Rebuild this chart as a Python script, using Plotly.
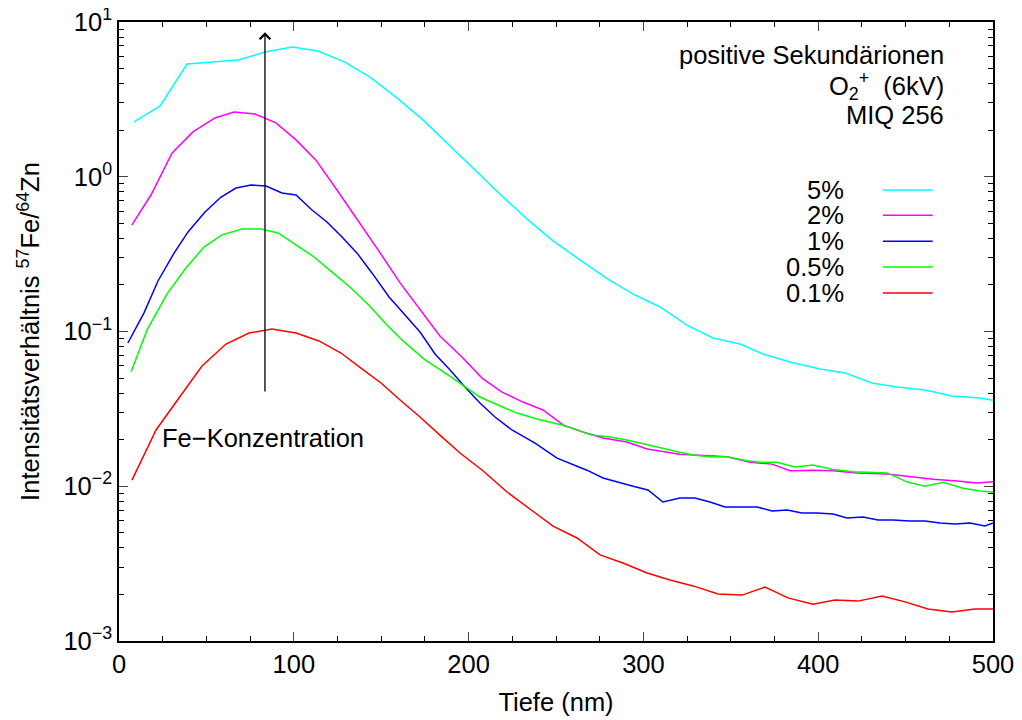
import plotly.graph_objects as go
import math

# ---- data (depth in nm, intensity ratio) ----
x_5 = [8.6, 23.5, 38.9, 68.1, 83.5, 99.0, 113.8, 129.3, 144.2, 159.0, 173.9, 189.4, 204.8, 219.7,
       234.0, 248.3, 263.7, 279.7, 295.2, 309.5, 324.9, 339.8, 355.3, 368.4, 383.9, 401.0, 415.3,
       430.8, 445.1, 461.1, 476.5, 492.6, 500.0]
y_5 = [2.26, 2.87, 5.35, 5.68, 6.40, 6.89, 6.50, 5.51, 4.35, 3.23, 2.33, 1.58, 1.07, 0.74,
       0.526, 0.385, 0.290, 0.218, 0.172, 0.144, 0.110, 0.0908, 0.083, 0.0716, 0.0635, 0.0573, 0.054,
       0.0465, 0.0438, 0.0419, 0.0383, 0.0372, 0.036]

x_2 = [7.4, 18.3, 30.3, 42.3, 54.9, 65.8, 77.8, 89.8, 101.3, 112.7, 124.7, 136.7, 148.7, 160.8,
       172.2, 183.6, 196.2, 207.7, 219.1, 231.1, 242.6, 254.0, 265.4, 276.9, 290.6, 302.1, 320.9,
       332.4, 347.8, 361.0, 373.6, 383.9, 397.0, 408.5, 422.2, 439.4, 454.2, 465.7, 479.4, 490.8, 500.0]
y_2 = [0.488, 0.762, 1.42, 1.95, 2.40, 2.62, 2.54, 2.23, 1.73, 1.28, 0.821, 0.525, 0.331, 0.206,
       0.140, 0.0935, 0.0684, 0.050, 0.0406, 0.035, 0.0311, 0.0249, 0.0224, 0.0205, 0.0193, 0.0174, 0.0161,
       0.0159, 0.0155, 0.0143, 0.0139, 0.0126, 0.0127, 0.0126, 0.0122, 0.0120, 0.0115, 0.0111, 0.0108, 0.0105, 0.0107]

x_1 = [5.1, 14.3, 22.3, 31.5, 39.5, 49.2, 58.4, 66.9, 75.5, 84.1, 93.2, 101.3, 110.4, 119.0, 127.6,
       136.2, 144.7, 154.5, 162.5, 172.2, 180.8, 189.4, 197.9, 206.5, 215.1, 224.8, 238.0, 250.6, 267.7,
       276.9, 294.1, 302.6, 311.2, 320.9, 329.5, 338.1, 346.7, 365.0, 373.6, 382.2, 390.7, 399.3, 408.5,
       416.5, 425.6, 434.2, 442.8, 452.5, 461.1, 469.7, 478.3, 486.8, 495.4, 500.0]
y_1 = [0.0843, 0.132, 0.212, 0.321, 0.440, 0.592, 0.740, 0.846, 0.885, 0.871, 0.785, 0.762, 0.610, 0.510, 0.408,
       0.321, 0.239, 0.167, 0.132, 0.0993, 0.0716, 0.0564, 0.0438, 0.0345, 0.0280, 0.0231, 0.0190, 0.0152, 0.0127,
       0.0113, 0.0100, 0.00946, 0.00791, 0.00839, 0.00839, 0.00791, 0.00734, 0.00734, 0.00692, 0.00703, 0.00672, 0.00672, 0.00662,
       0.00624, 0.00633, 0.00605, 0.00605, 0.00596, 0.00596, 0.00579, 0.00570, 0.00579, 0.00553, 0.00579]

x_05 = [6.9, 16.0, 27.5, 38.3, 48.6, 58.9, 70.4, 81.2, 91.0, 101.3, 111.6, 121.9, 132.7, 143.0, 153.3,
        162.5, 175.1, 187.6, 197.4, 206.5, 216.8, 227.7, 239.1, 253.4, 270.6, 280.9, 290.6, 302.1, 320.9,
        328.4, 338.1, 347.8, 359.3, 366.7, 376.4, 386.7, 397.0, 407.9, 419.9, 439.4, 451.4, 461.1, 471.4,
        482.3, 492.6, 500.0]
y_05 = [0.0547, 0.102, 0.175, 0.257, 0.351, 0.421, 0.460, 0.460, 0.433, 0.362, 0.303, 0.242, 0.191, 0.148, 0.110,
        0.0869, 0.0655, 0.0531, 0.0445, 0.0377, 0.0335, 0.0297, 0.0272, 0.0249, 0.0214, 0.0208, 0.0199, 0.0185, 0.0166,
        0.0159, 0.0155, 0.0155, 0.0146, 0.0143, 0.0143, 0.0133, 0.0137, 0.0129, 0.0124, 0.0122, 0.0106, 0.0100, 0.0106,
        0.00975, 0.00931, 0.00918]

x_01 = [7.4, 21.2, 34.3, 47.5, 61.2, 74.4, 87.5, 101.3, 114.4, 127.0, 139.0, 149.9, 160.8, 172.2, 183.6,
        195.1, 208.2, 222.0, 235.1, 248.3, 262.0, 275.2, 288.3, 302.1, 315.2, 328.4, 342.7, 356.4, 369.6,
        382.7, 397.0, 409.6, 422.8, 436.5, 449.7, 462.8, 476.5, 489.7, 500.0]
y_01 = [0.01096, 0.0231, 0.0372, 0.0598, 0.0830, 0.0977, 0.1038, 0.0977, 0.0869, 0.0726, 0.0573, 0.0465, 0.0361, 0.0280, 0.0214,
        0.0164, 0.0126, 0.00918, 0.00713, 0.00553, 0.00463, 0.00360, 0.00319, 0.00275, 0.00248, 0.00227, 0.00201, 0.00198, 0.00223,
        0.00190, 0.00173, 0.00184, 0.00181, 0.00195, 0.00179, 0.00161, 0.00154, 0.00161, 0.00161]

series_names = ["5%", "2%", "1%", "0.5%", "0.1%"]
series_x = [x_5, x_2, x_1, x_05, x_01]
series_y = [y_5, y_2, y_1, y_05, y_01]
colors = ["#00ffff", "#ff00ff", "#0000ff", "#00ff00", "#ff0000"]

x_ticks = [0, 100, 200, 300, 400, 500]
y_exponents = [-3, -2, -1, 0, 1]
y_ticktext = ["10<sup>%s</sup>" % (str(e).replace("-", "\u2212")) for e in y_exponents]

FONT = "Liberation Sans, Arial, Helvetica, sans-serif"
FS = 25.5

fig = go.Figure()
for name, xs, ys, c in zip(series_names, series_x, series_y, colors):
    fig.add_trace(go.Scatter(x=xs, y=ys, mode="lines", name=name,
                             line=dict(color=c, width=1.5), showlegend=False))

minor_y = [k * 10 ** d for d in range(-3, 1) for k in range(2, 10)]

fig.update_layout(
    width=1022, height=720,
    margin=dict(l=111, r=37, t=14, b=87, autoexpand=False),
    paper_bgcolor="white", plot_bgcolor="white",
    font=dict(family=FONT, size=FS, color="black"),
    xaxis=dict(range=[0, 500], tickvals=x_ticks, ticks="inside", ticklen=9, tickwidth=1,
               showline=True, linecolor="black", linewidth=1.5, mirror="ticks",
               showgrid=False, zeroline=False, ticklabeloverflow="allow", automargin=False,
               minor=dict(dtick=25, ticks="inside", ticklen=5, tickcolor="black", showgrid=False),
               title=dict(text="Tiefe (nm)", font=dict(size=FS), standoff=16),
               tickfont=dict(size=FS)),
    yaxis=dict(type="log", range=[-3, 1], tickvals=[10.0 ** e for e in y_exponents], ticktext=y_ticktext,
               ticks="inside", ticklen=9, tickwidth=1,
               showline=True, linecolor="black", linewidth=1.5, mirror="ticks",
               showgrid=False, zeroline=False, ticklabeloverflow="allow", automargin=False,
               minor=dict(tickvals=minor_y, ticks="inside", ticklen=5, tickcolor="black", showgrid=False),
               title=dict(text="Intensitätsverhältnis <sup>57</sup>Fe/<sup>64</sup>Zn", font=dict(size=FS), standoff=16),
               tickfont=dict(size=FS)),
)

# arrow (Fe concentration increasing)
fig.add_annotation(x=83.5, y=math.log10(8.6), ax=83.5, ay=math.log10(0.04),
                   xref="x", yref="y", axref="x", ayref="y", text="", showarrow=True,
                   arrowhead=4, arrowsize=1.6, arrowwidth=1.3, arrowcolor="black")
fig.add_annotation(x=23.5, y=1 - 416 / 154.75, xref="x", yref="y",
                   text="Fe\u2212Konzentration", showarrow=False, xanchor="left", yanchor="middle",
                   font=dict(size=FS))

# header text
hdr = ["positive Sekundärionen", "O<sub>2</sub><sup>+</sup>  (6kV)", "MIQ 256"]
hdr_y = [0.947, 0.897, 0.850]
for t, yy in zip(hdr, hdr_y):
    fig.add_annotation(x=0.946, y=yy, xref="paper", yref="paper", text=t, showarrow=False,
                       xanchor="right", yanchor="middle", font=dict(size=FS))

# legend
leg_y = [0.7286, 0.688, 0.646, 0.604, 0.562]
for name, c, yy in zip(series_names, colors, leg_y):
    fig.add_annotation(x=0.832, y=yy, xref="paper", yref="paper", text=name, showarrow=False,
                       xanchor="right", yanchor="middle", font=dict(size=FS))
    fig.add_shape(type="line", xref="paper", yref="paper", x0=0.874, x1=0.931, y0=yy, y1=yy,
                  line=dict(color=c, width=1.5))

fig.write_html("out.html")
